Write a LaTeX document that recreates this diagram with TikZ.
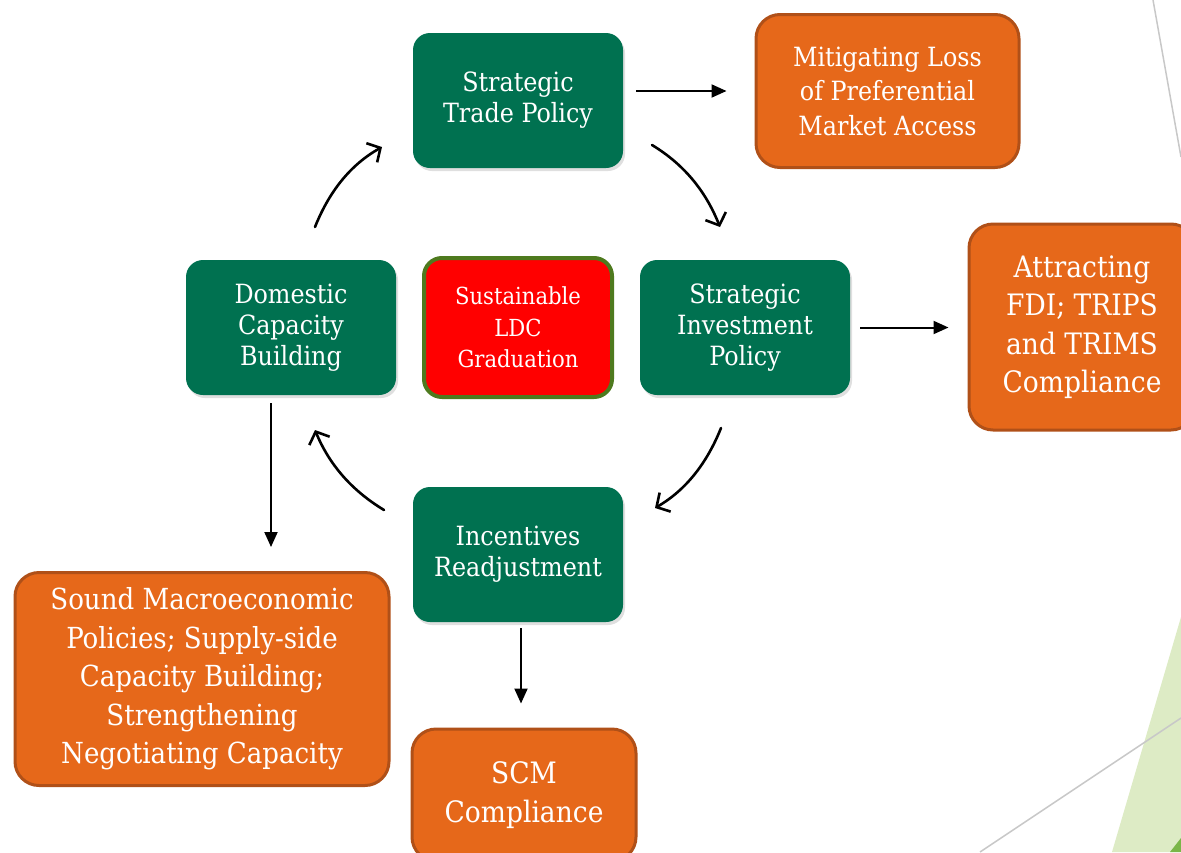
\documentclass[tikz,border=0pt]{standalone}
\usepackage{fontspec}
\setmainfont{DejaVu Serif Condensed}
\usetikzlibrary{arrows.meta,shadows,calc}
\definecolor{boxgreen}{RGB}{0,113,80}
\definecolor{boxorange}{RGB}{230,104,26}
\definecolor{orangeedge}{RGB}{176,80,24}
\definecolor{redfill}{RGB}{255,0,0}
\definecolor{rededge}{RGB}{78,122,30}
\definecolor{lightleaf}{RGB}{221,235,197}
\definecolor{darkleaf}{RGB}{122,182,72}
\definecolor{decoline}{RGB}{200,200,200}
\tikzset{
  gbox/.style={rectangle, rounded corners=17pt, fill=boxgreen, draw=none,
    minimum width=210pt, minimum height=135pt, text=white, align=center,
    font=\fontsize{26.5}{31}\selectfont,
    drop shadow={shadow xshift=2pt, shadow yshift=-3pt, opacity=0.25}},
  obox/.style={rectangle, rounded corners=24pt, fill=boxorange, draw=orangeedge,
    line width=3pt, text=white, align=center},
  rbox/.style={rectangle, rounded corners=18pt, fill=redfill, draw=rededge,
    line width=4pt, minimum width=188pt, minimum height=139pt, text=white,
    align=center, font=\fontsize{23.5}{31.5}\selectfont},
  cyc/.style={line width=2.6pt, line cap=round, -{Straight Barb[length=10pt,width=22pt,line width=2.6pt]}},
  str/.style={line width=2pt, -{Triangle[length=15pt,width=13pt]}},
}
\begin{document}
\begin{tikzpicture}[x=1pt,y=-1pt]
\useasboundingbox (0,0) rectangle (1181,852);
% background decoration
\fill[lightleaf] (1112,852) -- (1181,617) -- (1181,852) -- cycle;
\fill[darkleaf] (1170,852) -- (1181,838) -- (1181,852) -- cycle;
\draw[decoline, line width=1.5pt] (980,852) -- (1181,718);
\draw[decoline, line width=1.5pt] (1153,0) -- (1181,157);
% core nodes
\node[gbox] (trade) at (518,100.5) {Strategic\\Trade Policy};
\node[gbox] (invest) at (745,327.5) {Strategic\\Investment\\Policy};
\node[gbox] (incent) at (518,554.5) {Incentives\\Readjustment};
\node[gbox] (dom) at (291,327.5) {Domestic\\Capacity\\Building};
\node[rbox] (ldc) at (518,327.5) {Sustainable\\LDC\\Graduation};
% outcome nodes
\node[obox, minimum width=263pt, minimum height=153pt, font=\fontsize{26.5}{34.5}\selectfont] (mit) at (887.5,91) {Mitigating Loss\\of Preferential\\Market Access};
\node[obox, minimum width=226pt, minimum height=206pt, font=\fontsize{29.5}{38.5}\selectfont] (attr) at (1082,327) {Attracting\\FDI; TRIPS\\and TRIMS\\Compliance};
\node[obox, minimum width=374pt, minimum height=213pt, font=\fontsize{29}{38.5}\selectfont] (sound) at (202,679) {Sound Macroeconomic\\Policies; Supply-side\\Capacity Building;\\Strengthening\\Negotiating Capacity};
\node[obox, minimum width=224pt, minimum height=132pt, font=\fontsize{29.5}{38.5}\selectfont] (scm) at (524,795) {SCM\\Compliance};
% cycle arrows
\coordinate (c) at (518,327);
\coordinate (a1s) at ($(c)+(134,-182)$);
\coordinate (a1e) at ($(c)+(202,-100)$);
\coordinate (a2s) at ($(c)+(203,101)$);
\coordinate (a2e) at ($(c)+(137,181)$);
\coordinate (a3s) at ($(c)+(-134,183)$);
\coordinate (a3e) at ($(c)+(-203,103)$);
\coordinate (a4s) at ($(c)+(-203,-100)$);
\coordinate (a4e) at ($(c)+(-136,-180)$);
\draw[cyc] (a1s) .. controls ($(c)+(167,-162)$) and ($(c)+(188,-135)$) .. (a1e);
\draw[cyc] (a2s) .. controls ($(c)+(189,136)$) and ($(c)+(168,163)$) .. (a2e);
\draw[cyc] (a3s) .. controls ($(c)+(-167,163)$) and ($(c)+(-189,137)$) .. (a3e);
\draw[cyc] (a4s) .. controls ($(c)+(-189,-135)$) and ($(c)+(-168,-162)$) .. (a4e);
% straight arrows
\draw[str, shorten <=13pt, shorten >=28pt] (trade.east |- mit.west) -- (mit.west);
\draw[str, shorten <=10pt, shorten >=19pt] (invest.east) -- (attr.west |- invest.east);
\draw[str, shorten <=8pt, shorten >=24pt] ($(dom.south)+(-20,0)$) -- ($(dom.south |- sound.north)+(-20,0)$);
\draw[str, shorten <=6pt, shorten >=24pt] ($(incent.south)+(3,0)$) -- ($(incent.south |- scm.north)+(3,0)$);
\end{tikzpicture}
\end{document}
